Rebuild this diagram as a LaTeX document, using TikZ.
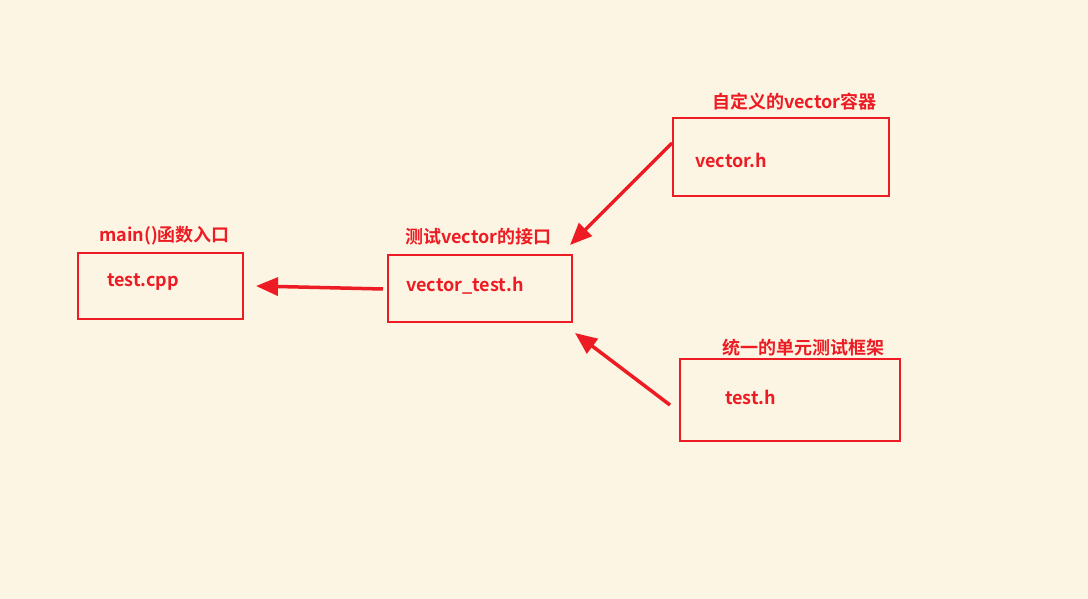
\documentclass[tikz,border=0pt]{standalone}
\usepackage{fontspec}
\setmainfont{Noto Sans CJK SC}[BoldFont={Noto Sans CJK SC Bold}]
\usetikzlibrary{arrows.meta}
\definecolor{bg}{HTML}{FDF5E3}
\definecolor{rd}{HTML}{ED1C24}
\tikzset{
  x=1pt,y=-1pt,
  box/.style={draw=rd,line width=2pt,rectangle,inner sep=0pt},
  txt/.style={text=rd,font=\fontsize{18}{21}\selectfont\bfseries,inner sep=0pt,anchor=west},
  arr/.style={draw=rd,line width=3.5pt,-{Triangle[length=22pt,width=18pt]}}
}
\begin{document}
\begin{tikzpicture}
\fill[bg] (0,0) rectangle (1088,599);
\useasboundingbox (0,0) rectangle (1088,599);
% boxes
\node[box,minimum width=165,minimum height=66] (cpp) at (160.5,286) {};
\node[box,minimum width=184,minimum height=67] (vt) at (480,288.5) {};
\node[box,minimum width=216,minimum height=78] (vh) at (781,157) {};
\node[box,minimum width=220,minimum height=82] (th) at (790,400) {};
% box texts
\node[txt] (tcpp) at (107,282) {test.cpp};
\node[txt] (tvt) at (406,286) {vector\_test.h};
\node[txt] (tvh) at (695,160) {vector.h};
\node[txt] (tth) at (725,397) {test.h};
% captions
\node[txt] (lcpp) at (99,236) {main()函数入口};
\node[txt] (lvt) at (405,237) {测试vector的接口};
\node[txt] (lvh) at (712,102) {自定义的vector容器};
\node[txt] (lth) at (722,348) {统一的单元测试框架};
% arrows
\coordinate (a1s) at (383,289);
\coordinate (a1e) at (256,286);
\coordinate (a2s) at (672,143);
\coordinate (a2e) at (570,245);
\coordinate (a3s) at (670,405);
\coordinate (a3e) at (575,333);
\draw[arr] (a1s) -- (a1e);
\draw[arr] (a2s) -- (a2e);
\draw[arr] (a3s) -- (a3e);
\end{tikzpicture}
\end{document}
